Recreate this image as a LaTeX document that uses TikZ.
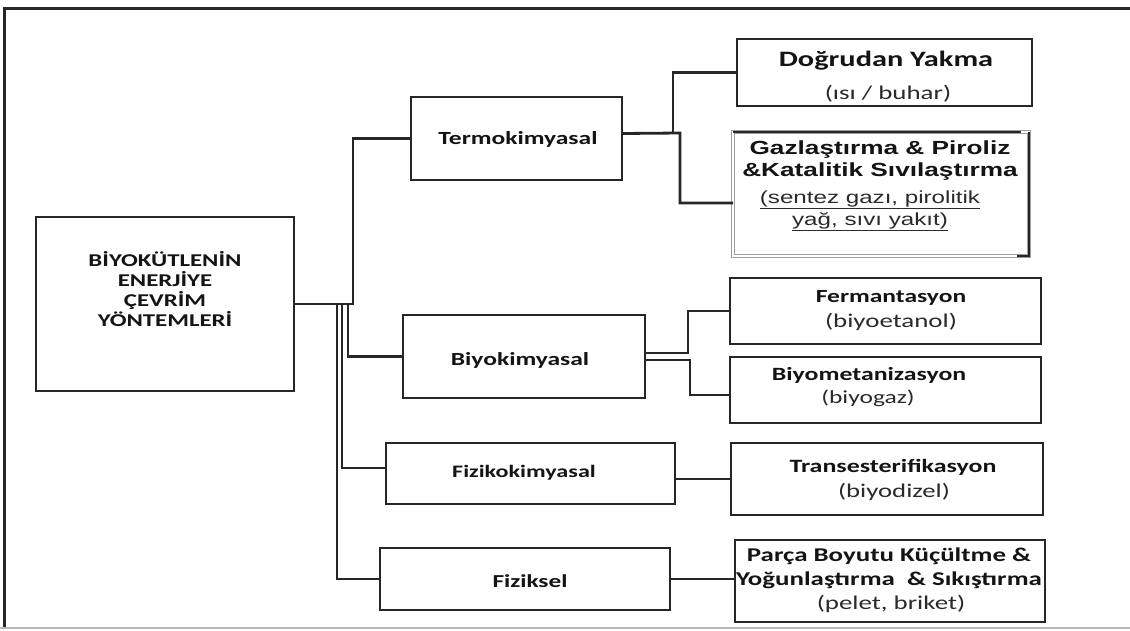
\documentclass[tikz,border=0pt]{standalone}
\usepackage{fontspec}
\setmainfont{Carlito}
\newfontfamily\calfnt[FakeStretch=1.38]{Carlito}
\newfontfamily\arifnt[FakeStretch=1.38]{Liberation Sans}
\definecolor{ln}{HTML}{262626}
\definecolor{tx}{HTML}{141414}
\definecolor{subc}{HTML}{2A2A2A}
\begin{document}
\begin{tikzpicture}[x=1pt,y=-1pt,
  box/.style={draw=ln, line width=2.8pt, fill=white, inner sep=0pt, outer sep=0pt},
  gbox/.style={draw=gray!75, double=white, double distance=1.2pt, line width=1pt, fill=white, inner sep=0pt, outer sep=0pt},
  conn/.style={draw=ln, line width=2.8pt},
  tb/.style={inner sep=0pt, text=tx, align=center, font=\calfnt\bfseries\fontsize{#1}{#1}\selectfont},
  tr/.style={inner sep=0pt, text=subc, align=center, font=\calfnt\fontsize{#1}{#1}\selectfont},
]
\useasboundingbox (0,0) rectangle (1130,630);
% frame
\draw[line width=3pt, ln] (4,628) -- (4,8) -- (1130,8);
\draw[line width=2pt, gray!55] (0,628) -- (1130,628);

% boxes
\node[box, minimum width=258pt, minimum height=174pt] (main) at (165,304) {};
\node[box, minimum width=211pt, minimum height=83pt] (termo) at (516.5,138.5) {};
\node[box, minimum width=242pt, minimum height=83pt] (biyo) at (524,356.5) {};
\node[box, minimum width=289pt, minimum height=61pt] (fiziko) at (530.5,473.5) {};
\node[box, minimum width=290pt, minimum height=62pt] (fiziksel) at (525,579) {};
\node[box, minimum width=295pt, minimum height=67pt] (dog) at (884.5,72.5) {};
\node[gbox, minimum width=296pt, minimum height=124pt] (gaz) at (881,194) {};
\draw[ln, line width=2.8pt] ([xshift=-8pt]gaz.north east) -- (gaz.north west);
\draw[ln, line width=2.8pt] (gaz.north east) -- (gaz.south east) -- ([xshift=-12pt]gaz.south east);
\node[box, minimum width=311pt, minimum height=66pt] (ferm) at (885.5,311) {};
\node[box, minimum width=311pt, minimum height=66pt] (biyomet) at (885.5,390) {};
\node[box, minimum width=312pt, minimum height=72pt] (trans) at (887,479) {};
\node[box, minimum width=310pt, minimum height=82pt] (parca) at (890,581) {};

% texts
\node[tb=18, font=\calfnt\bfseries\fontsize{18}{20}\selectfont] (mainlbl) at (165,289) {BİYOKÜTLENİN\\ENERJİYE\\ÇEVRİM\\YÖNTEMLERİ};
\node[tb=18.5] (termolbl) at (518,139) {Termokimyasal};
\node[tb=18.5] (biyolbl) at (520,360) {Biyokimyasal};
\node[tb=17.5] (fizikolbl) at (524,473) {Fizikokimyasal};
\node[tb=18.3] (fizikslbl) at (530,581) {Fiziksel};
\node[tb=22] (dog1) at (886,61) {Doğrudan Yakma};
\node[tr=19.5] (dog2) at (888,94) {(ısı / buhar)};
\node[inner sep=0pt, text=tx, align=center, font=\arifnt\bfseries\fontsize{19}{22}\selectfont] (gaz1) at (880,161) {Gazlaştırma \& Piroliz\\\&Katalitik Sıvılaştırma};
\node[inner sep=0pt, text=subc, align=center, font=\arifnt\fontsize{17.5}{22}\selectfont] (gaz2) at (870,211) {\underline{(sentez gazı, pirolitik}\\\underline{yağ, sıvı yakıt)}};
\node[tb=18.5] (ferm1) at (891,298) {Fermantasyon};
\node[tr=19.5] (ferm2) at (891,322) {(biyoetanol)};
\node[tb=18.7] (biyomet1) at (869,375) {Biyometanizasyon};
\node[tr=18.5] (biyomet2) at (868,398) {(biyogaz)};
\node[tb=18.8] (trans1) at (893,467) {Transesterifikasyon};
\node[tr=19.4] (trans2) at (894,492) {(biyodizel)};
\node[tb=19.5] (parca1) at (889,556) {Parça Boyutu Küçültme \&};
\node[tb=19.5] (parca2) at (889,580) {Yoğunlaştırma\ \ \& Sıkıştırma};
\node[tr=19.5] (parca3) at (891,604) {(pelet, briket)};

% connectors from main
\coordinate (j1) at (353,304);
\coordinate (j2) at (348,304);
\coordinate (j3) at (342,304);
\coordinate (j4) at (337,304);
\draw[conn] (main.east) -- (j1) |- (termo.west);
\draw[conn] (j2) |- (biyo.west);
\draw[conn] (j3) |- ([yshift=5.5pt]fiziko.west);
\draw[conn] (j4) |- (fiziksel.west);

% termo branches
\coordinate (k1) at (673,133);
\coordinate (k2) at (680,133);
\draw[conn] ([yshift=5pt]termo.east) -- (k2) |- ([yshift=-9pt]gaz.west);
\draw[conn] (k1) |- (dog.west);

% biyo branches
\coordinate (m1) at (688,353);
\coordinate (m2) at (690,360);
\draw[conn] ([yshift=3.5pt]biyo.east) -- (m1) |- (ferm.west);
\draw[conn] ([yshift=-3.5pt]biyo.east) -- (m2) |- ([yshift=-5pt]biyomet.west);

% fiziko and fiziksel
\draw[conn] ([yshift=-5.5pt]fiziko.east) -- (trans.west);
\draw[conn] (fiziksel.east) -- (fiziksel.east -| parca.west);
\end{tikzpicture}
\end{document}
